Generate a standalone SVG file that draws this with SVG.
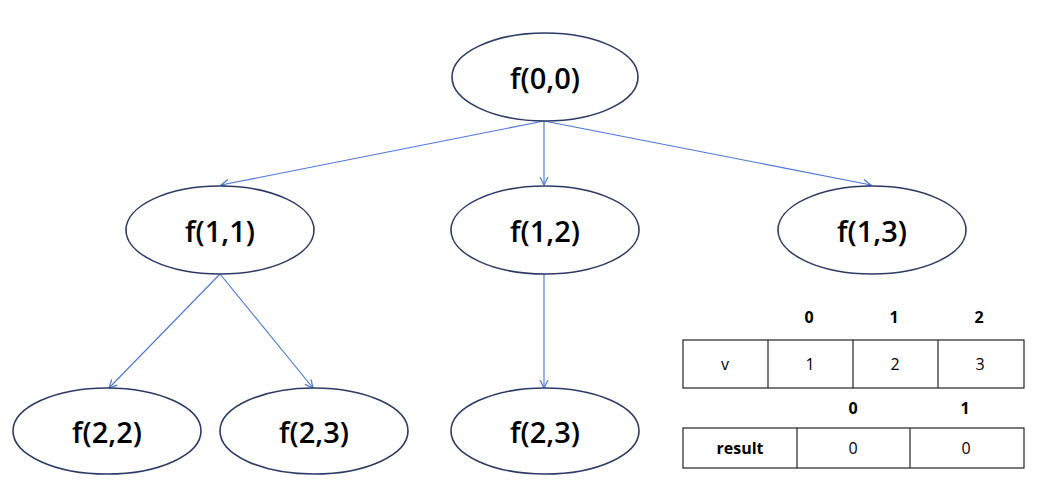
<svg xmlns="http://www.w3.org/2000/svg" width="1043" height="496" viewBox="0 0 1043 496">
<defs>
<marker id="arr" viewBox="0 0 10 10" refX="9" refY="5" markerWidth="10" markerHeight="10" markerUnits="userSpaceOnUse" orient="auto">
<path d="M1,1 L9,5 L1,9" fill="none" stroke="#4a76d6" stroke-width="1.2"/>
</marker>
<style>
.node ellipse{fill:#fff;stroke:#2b3a67;stroke-width:1.6}
.node text{font-family:"Open Sans","Liberation Sans",Arial,sans-serif;font-weight:600;font-size:29px;fill:#000;text-anchor:middle;dominant-baseline:central}
.edges line{stroke:#4a76d6;stroke-width:1.1;marker-end:url(#arr)}
.tbl rect,.tbl line{fill:none;stroke:#222;stroke-width:1.2}
.tbl text{font-family:"Open Sans","Liberation Sans",Arial,sans-serif;font-size:16px;fill:#000;text-anchor:middle;dominant-baseline:central}
.tbl .h{font-weight:bold}
</style>
</defs>
<rect width="1043" height="496" fill="#fff"/>
<g class="edges" id="connectors">
<line x1="544" y1="121" x2="221" y2="185"/>
<line x1="544" y1="121" x2="544" y2="185"/>
<line x1="544" y1="121" x2="871" y2="185"/>
<line x1="220" y1="274" x2="109" y2="388"/>
<line x1="220" y1="274" x2="313" y2="388"/>
<line x1="544" y1="274" x2="544" y2="388"/>
</g>
<g class="node" id="n00"><ellipse cx="545" cy="77" rx="93" ry="44"/><text x="545" y="77">f(0,0)</text></g>
<g class="node" id="n11"><ellipse cx="220" cy="230" rx="94" ry="44"/><text x="220" y="230">f(1,1)</text></g>
<g class="node" id="n12"><ellipse cx="545" cy="230" rx="94" ry="44"/><text x="545" y="230">f(1,2)</text></g>
<g class="node" id="n13"><ellipse cx="872" cy="230" rx="94" ry="44"/><text x="872" y="230">f(1,3)</text></g>
<g class="node" id="n22"><ellipse cx="107" cy="431" rx="94" ry="43"/><text x="107" y="431">f(2,2)</text></g>
<g class="node" id="n23a"><ellipse cx="314" cy="431" rx="94" ry="43"/><text x="314" y="431">f(2,3)</text></g>
<g class="node" id="n23b"><ellipse cx="545" cy="431" rx="94" ry="43"/><text x="545" y="431">f(2,3)</text></g>
<g class="tbl" id="table-v">
<text class="h" x="809" y="317">0</text>
<text class="h" x="894" y="317">1</text>
<text class="h" x="979" y="317">2</text>
<rect x="683" y="340" width="341" height="48"/>
<line x1="768" y1="340" x2="768" y2="388"/>
<line x1="853" y1="340" x2="853" y2="388"/>
<line x1="938" y1="340" x2="938" y2="388"/>
<text x="725" y="364">v</text>
<text x="810" y="364">1</text>
<text x="895" y="364">2</text>
<text x="980" y="364">3</text>
</g>
<g class="tbl" id="table-result">
<text class="h" x="853" y="408">0</text>
<text class="h" x="965" y="408">1</text>
<rect x="683" y="428" width="341" height="40"/>
<line x1="797" y1="428" x2="797" y2="468"/>
<line x1="910" y1="428" x2="910" y2="468"/>
<text class="h" x="740" y="448">result</text>
<text x="853" y="448">0</text>
<text x="966" y="448">0</text>
</g>
</svg>
